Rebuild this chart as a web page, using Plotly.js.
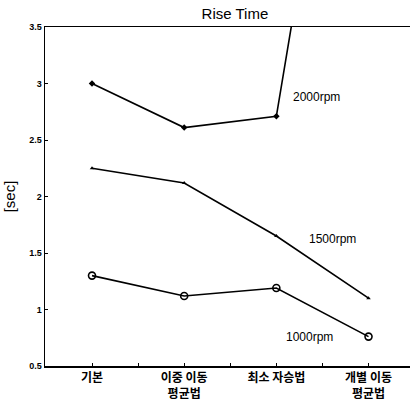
<!DOCTYPE html>
<html><head><meta charset="utf-8">
<script src="https://cdn.plot.ly/plotly-3.0.1.min.js"></script>
<style>html,body{margin:0;padding:0;background:#fff;}#chart{width:410px;height:405px;}</style>
</head><body><div id="chart"></div>
<script>
const categories = ["기본", "이중 이동<br>평균법", "최소 자승법", "개별 이동<br>평균법"];
const rpm2000 = [3.0, 2.61, 2.71, 7.6];
const rpm1500 = [2.25, 2.12, 1.65, 1.10];
const rpm1000 = [1.30, 1.12, 1.19, 0.76];
const yTickVals = [0.5, 1, 1.5, 2, 2.5, 3, 3.5];
const yTickText = ["0.5", "1", "1.5", "2", "2.5", "3", "3.5"];
const seriesNames = ["2000rpm", "1500rpm", "1000rpm"];

const xi = categories.map((_, i) => i);
const line = {color: '#000', width: 1.6};
const traces = [
  {x: xi, y: rpm2000, name: seriesNames[0], mode: 'lines+markers', line: line,
   marker: {symbol: 'diamond', size: 5, color: '#000'}},
  {x: xi, y: rpm1500, name: seriesNames[1], mode: 'lines+markers', line: line,
   marker: {symbol: 'triangle-up', size: 4, color: '#000'}},
  {x: xi, y: rpm1000, name: seriesNames[2], mode: 'lines+markers', line: line,
   marker: {symbol: 'circle-open', size: 7, color: '#000', line: {width: 1.6}}}
];
const lblFont = {family: '"Liberation Sans Narrow", "Liberation Sans", Arial, sans-serif', size: 12, color: '#000'};
const layout = {
  width: 410, height: 405,
  margin: {l: 45, r: 0, t: 27, b: 39},
  paper_bgcolor: '#fff', plot_bgcolor: '#fff',
  showlegend: false,
  title: {text: 'Rise Time', x: 0.573, xanchor: 'center', y: 0.967, yanchor: 'middle',
          font: {family: '"Liberation Sans", Arial, sans-serif', size: 15, color: '#000'}},
  xaxis: {range: [-0.51, 3.45], tickmode: 'array', tickvals: xi, ticktext: categories,
          showline: true, linecolor: '#000', linewidth: 1.5, mirror: true,
          ticks: 'inside', ticklen: 3, tickcolor: '#000', showgrid: false, zeroline: false,
          minor: {tickmode: 'linear', tick0: 0.5, dtick: 1, ticks: 'inside', ticklen: 3, tickcolor: '#000'},
          tickfont: {family: '"Noto Sans CJK KR", sans-serif', size: 12, color: '#000', weight: 'bold'}},
  yaxis: {range: [0.5, 3.5], tickmode: 'array', tickvals: yTickVals, ticktext: yTickText,
          showline: true, linecolor: '#000', linewidth: 1.5,
          ticks: 'inside', ticklen: 3, tickcolor: '#000', showgrid: false, zeroline: false,
          tickfont: {family: '"Liberation Sans", Arial, sans-serif', size: 9, color: '#000', weight: 'bold'},
          title: {text: '[sec]', standoff: 10, font: {family: '"Liberation Sans", Arial, sans-serif', size: 15, color: '#000'}}},
  annotations: [
    {x: 2.44, y: 2.88, text: seriesNames[0], showarrow: false, font: lblFont},
    {x: 2.61, y: 1.62, text: seriesNames[1], showarrow: false, font: lblFont},
    {x: 2.36, y: 0.76, text: seriesNames[2], showarrow: false, font: lblFont}
  ]
};
Plotly.newPlot('chart', traces, layout, {displayModeBar: false, staticPlot: true});
</script></body></html>
